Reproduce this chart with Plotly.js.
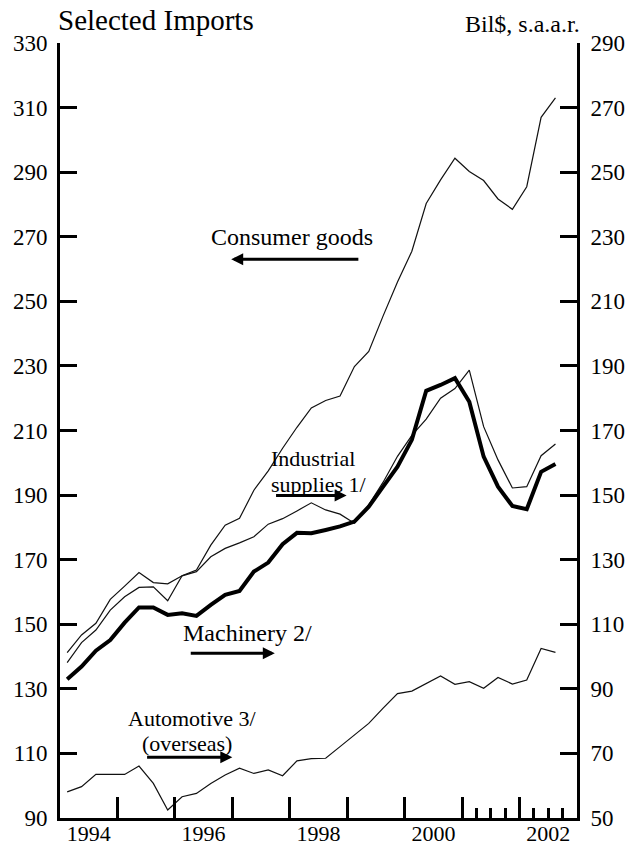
<!DOCTYPE html>
<html>
<head>
<meta charset="utf-8">
<script src="https://cdn.plot.ly/plotly-3.0.1.min.js"></script>
<style>html,body{margin:0;padding:0;background:#fff;}#chart{width:635px;height:846px;}</style>
</head>
<body>
<div id="chart"></div>
<script>
// Quarterly observations, 1994Q1 .. 2002Q3
const firstYear = 1994, lastYear = 2002, lastQuarter = 3;
const quarters = [];
for (let y = firstYear; y <= lastYear; y++) {
  for (let q = 1; q <= 4; q++) {
    if (y === lastYear && q > lastQuarter) break;
    quarters.push(y + 'Q' + q);
  }
}
// mid-quarter position in decimal years
const quarterX = quarters.map(s => { const y = +s.slice(0,4), q = +s.slice(5); return y + (q - 0.5) / 4; });

// Consumer goods (left scale, Bil$)
const consumerGoods = [138.1,144.3,148.2,154.4,158.5,161.4,161.6,157.3,165.0,166.8,174.5,180.7,182.8,191.5,197.5,204.5,211.0,217.0,219.3,220.7,229.8,234.5,245.5,256.0,265.5,280.3,287.6,294.3,290.2,287.4,281.7,278.5,285.5,307.0,313.0];
// Industrial supplies 1/ (right scale)
const industrialSupplies = [101.2,106.7,110.3,117.7,121.8,126.0,122.9,122.5,125.0,126.3,130.9,133.5,135.2,137.1,141.0,142.7,145.1,147.6,145.4,144.1,141.3,147.0,154.0,162.0,168.5,173.5,180.0,183.0,188.7,171.2,160.9,152.2,152.6,162.2,165.8];
// Machinery 2/ (right scale)
const machinery = [93.0,96.9,101.8,105.1,110.5,115.2,115.2,112.9,113.4,112.6,116.0,119.1,120.3,126.3,129.1,134.8,138.3,138.2,139.2,140.3,141.8,146.4,152.6,158.8,167.1,182.3,184.1,186.2,178.9,161.9,152.6,146.6,145.6,157.2,159.6];
// Automotive 3/ (overseas) (right scale)
const automotive = [58.1,59.7,63.5,63.5,63.5,66.1,60.7,52.5,56.6,57.6,60.7,63.3,65.4,63.8,64.9,63.1,67.7,68.4,68.5,72.1,75.7,79.3,84.0,88.5,89.3,91.7,94.0,91.4,92.2,90.2,93.5,91.5,92.7,102.5,101.3];

// Axis ticks and labels
const leftTicks = [90,110,130,150,170,190,210,230,250,270,290,310,330];
const rightTicks = [50,70,90,110,130,150,170,190,210,230,250,270,290];
const yearBoundaryTicks = [1995,1996,1997,1998,1999,2000,2001,2002];
const quarterTicks = [2001.25,2001.5,2001.75,2002.25,2002.5,2002.75];
const yearLabelPos = [1994.5,1996.5,1998.5,2000.5,2002.5];
const yearLabels = ['1994','1996','1998','2000','2002'];

const FONT = 'Liberation Serif, Times New Roman, serif';

const thin = {color:'#111', width:1.2};
const traces = [
  {x:quarterX, y:consumerGoods, name:'Consumer goods', type:'scatter', mode:'lines', line:thin, xaxis:'x', yaxis:'y'},
  {x:quarterX, y:industrialSupplies, name:'Industrial supplies 1/', type:'scatter', mode:'lines', line:thin, xaxis:'x2', yaxis:'y2'},
  {x:quarterX, y:machinery, name:'Machinery 2/', type:'scatter', mode:'lines', line:{color:'#000', width:4}, xaxis:'x2', yaxis:'y2'},
  {x:quarterX, y:automotive, name:'Automotive 3/ (overseas)', type:'scatter', mode:'lines', line:thin, xaxis:'x2', yaxis:'y2'}
];

const axisCommon = {showgrid:false, zeroline:false, showline:true, linecolor:'#000', linewidth:3,
  ticks:'inside', tickcolor:'#000', tickwidth:3, tickfont:{family:FONT, size:23, color:'#000'}};

const txt = (text, x, y, xanchor, size) => ({text, x, y, xref:'x', yref:'y', showarrow:false,
  xanchor: xanchor || 'left', yanchor:'middle', font:{family:FONT, size:size || 24, color:'#000'}});
const arrow = (xTail, xHead, y) => ({text:'', x:xHead, y:y, ax:xTail, ay:y, xref:'x', yref:'y', axref:'x', ayref:'y',
  showarrow:true, arrowhead:2, arrowsize:0.8, arrowwidth:3, arrowcolor:'#000', standoff:0, startstandoff:0});

const layout = {
  width:635, height:846,
  margin:{l:60, r:58, t:43, b:28, pad:0},
  paper_bgcolor:'#fff', plot_bgcolor:'#fff',
  showlegend:false,
  title:{text:'Selected Imports', font:{family:FONT, size:29, color:'#000'},
    x:58/635, xanchor:'left', xref:'container', y:1-20/846, yanchor:'middle', yref:'container'},
  xaxis:Object.assign({}, axisCommon, {range:[1994,2003], tickmode:'array', tickvals:yearBoundaryTicks,
    ticklen:21, showticklabels:false,
    minor:{tickmode:'array', tickvals:quarterTicks, ticks:'inside', ticklen:10, tickwidth:3, tickcolor:'#000', showgrid:false}}),
  xaxis2:{overlaying:'x', anchor:'y2', side:'bottom', range:[1994,2003], tickmode:'array', tickvals:yearLabelPos,
    ticktext:yearLabels, ticks:'', showline:false, showgrid:false, zeroline:false,
    tickfont:{family:FONT, size:22, color:'#000'}, ticklabelstandoff:0},
  yaxis:Object.assign({}, axisCommon, {range:[90,330], tickmode:'array', tickvals:leftTicks, ticklen:17, ticklabelstandoff:5}),
  yaxis2:Object.assign({}, axisCommon, {range:[50,290], tickmode:'array', tickvals:rightTicks, ticklen:17,
    overlaying:'y', side:'right', anchor:'x2', ticklabelstandoff:6}),
  annotations:[
    {text:'Bil$, s.a.a.r.', xref:'paper', yref:'paper', x:(582-60)/517, y:(818-24)/775, xanchor:'right', yanchor:'middle',
      showarrow:false, font:{family:FONT, size:24, color:'#000'}},
    txt('Consumer goods', 1996.6, 270.0),
    arrow(1999.22, 1996.98, 263.0),
    txt('Industrial', 1997.63, 201.2, 'left', 22),
    txt('supplies 1/', 1997.63, 193.4, 'left', 22),
    arrow(1997.735, 1998.99, 189.9),
    txt('Machinery 2/', 1996.11, 147.3),
    arrow(1996.25, 1997.74, 141.0),
    txt('Automotive 3/', 1995.15, 120.8, 'left', 22),
    txt('(overseas)', 1996.21, 113.1, 'center', 22),
    arrow(1995.49, 1997.0, 108.8)
  ]
};

Plotly.newPlot('chart', traces, layout, {displayModeBar:false, staticPlot:true});
</script>
</body>
</html>
